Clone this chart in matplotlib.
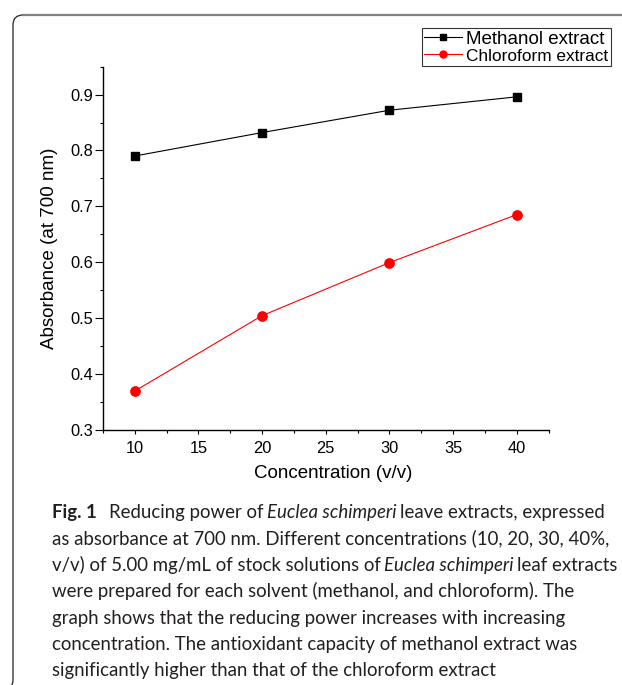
import matplotlib
matplotlib.use("Agg")
import matplotlib.pyplot as plt
from matplotlib.path import Path
from matplotlib.patches import PathPatch
from matplotlib.ticker import MultipleLocator

# data
conc = [10, 20, 30, 40]
methanol = [0.790, 0.832, 0.872, 0.896]
chloroform = [0.369, 0.504, 0.599, 0.685]

W, H = 622, 685

def px(x, y):
	# pixel position (from top left) -> figure fraction
	return (x / W, 1 - y / H)

plt.rcParams['font.family'] = ['Liberation Sans', 'DejaVu Sans']

fig = plt.figure(figsize=(W / 100, H / 100), dpi=100)
ax = fig.add_axes([103 / W, 1 - 429.5 / H, 445.5 / W, 362.8 / H])

ax.plot(conc, methanol, color='black', lw=0.8, marker='s', ms=5.5, label='Methanol extract')
ax.plot(conc, chloroform, color='red', lw=0.8, marker='o', ms=6.7, label='Chloroform extract')

ax.set_xlim(7.5, 42.5)
ax.set_ylim(0.3, 0.95)
ax.xaxis.set_major_locator(MultipleLocator(5))
ax.xaxis.set_minor_locator(MultipleLocator(2.5))
ax.yaxis.set_major_locator(MultipleLocator(0.1))
ax.yaxis.set_minor_locator(MultipleLocator(0.05))
ax.yaxis.set_major_formatter(matplotlib.ticker.FormatStrFormatter('%.1f'))

for s in ['top', 'right']:
	ax.spines[s].set_visible(False)
for s in ['left', 'bottom']:
	ax.spines[s].set_linewidth(1.0)

ax.tick_params(axis='both', which='both', direction='out', width=0.8, labelsize=11.8)
ax.tick_params(axis='x', which='major', length=3, pad=5)
ax.tick_params(axis='x', which='minor', length=2.3)
ax.tick_params(axis='y', which='major', length=5.7, pad=1.5)
ax.tick_params(axis='y', which='minor', length=2.5)

ax.set_xlabel('Concentration (v/v)', fontsize=13.5, labelpad=7, x=0.516)
ax.set_ylabel('Absorbance (at 700 nm)', fontsize=13.5, labelpad=9)

leg = ax.legend(loc='upper right', bbox_to_anchor=px(610.7, 28.3), bbox_transform=fig.transFigure,
	fontsize=13.5, frameon=True, fancybox=False, borderpad=0.12, labelspacing=0.0,
	handlelength=2.0, handletextpad=0.25, borderaxespad=0, markerscale=0.75)
leg.get_frame().set_edgecolor('black')
leg.get_frame().set_linewidth(0.8)
# the second entry is squeezed in the original, so it ends where the first does
leg.get_texts()[1].set_fontsize(12.4)

# frame around figure + caption
left = Path([px(13, 680), px(13, 25), px(13, 15), px(23, 15)],
	[Path.MOVETO, Path.LINETO, Path.CURVE3, Path.CURVE3])
fig.add_artist(PathPatch(left, fill=False, edgecolor='#222222', lw=0.9))
fig.add_artist(PathPatch(Path([px(13, 680), px(13, 685), px(10, 688)], [Path.MOVETO, Path.CURVE3, Path.CURVE3]),
	fill=False, edgecolor='#222222', lw=0.9))
fig.add_artist(plt.Line2D([23 / W, 1], [1 - 15 / H] * 2, color='#808080', lw=1.6))

# caption, segments: (text, style)
cap_lines = [
	[('Fig. 1', 'bold'), ('Reducing power of', 'normal'), ('Euclea schimperi', 'italic'),
	 ('leave extracts, expressed', 'normal')],
	[('as absorbance at 700 nm. Different concentrations (10, 20, 30, 40%,', 'normal')],
	[('v/v) of 5.00 mg/mL of stock solutions of', 'normal'), ('Euclea schimperi', 'italic'),
	 ('leaf extracts', 'normal')],
	[('were prepared for each solvent (methanol, and chloroform). The', 'normal')],
	[('graph shows that the reducing power increases with increasing', 'normal')],
	[('concentration. The antioxidant capacity of methanol extract was', 'normal')],
	[('significantly higher than that of the chloroform extract', 'normal')],
]
cap_size = 13.4
cap_color = '#231f20'
x0, y0, dy = 51.5, 518, 26.4
for i, segs in enumerate(cap_lines):
	prev = None
	for j, (txt, style) in enumerate(segs):
		kw = dict(fontsize=cap_size, color=cap_color, family=['Lato', 'DejaVu Sans'])
		if style == 'bold':
			kw['fontweight'] = 'bold'
		if style == 'italic':
			kw['fontstyle'] = 'italic'
		if prev is None:
			prev = fig.text(*px(x0, y0 + i * dy), txt, va='baseline', ha='left', **kw)
		else:
			gap = 9 if segs[j - 1][1] == 'bold' else 2.7
			prev = ax.annotate(txt, xy=(1, 0), xycoords=prev, xytext=(gap, 0),
				textcoords='offset points', va='bottom', ha='left', annotation_clip=False, **kw)

fig.savefig('out.png', dpi=100)
